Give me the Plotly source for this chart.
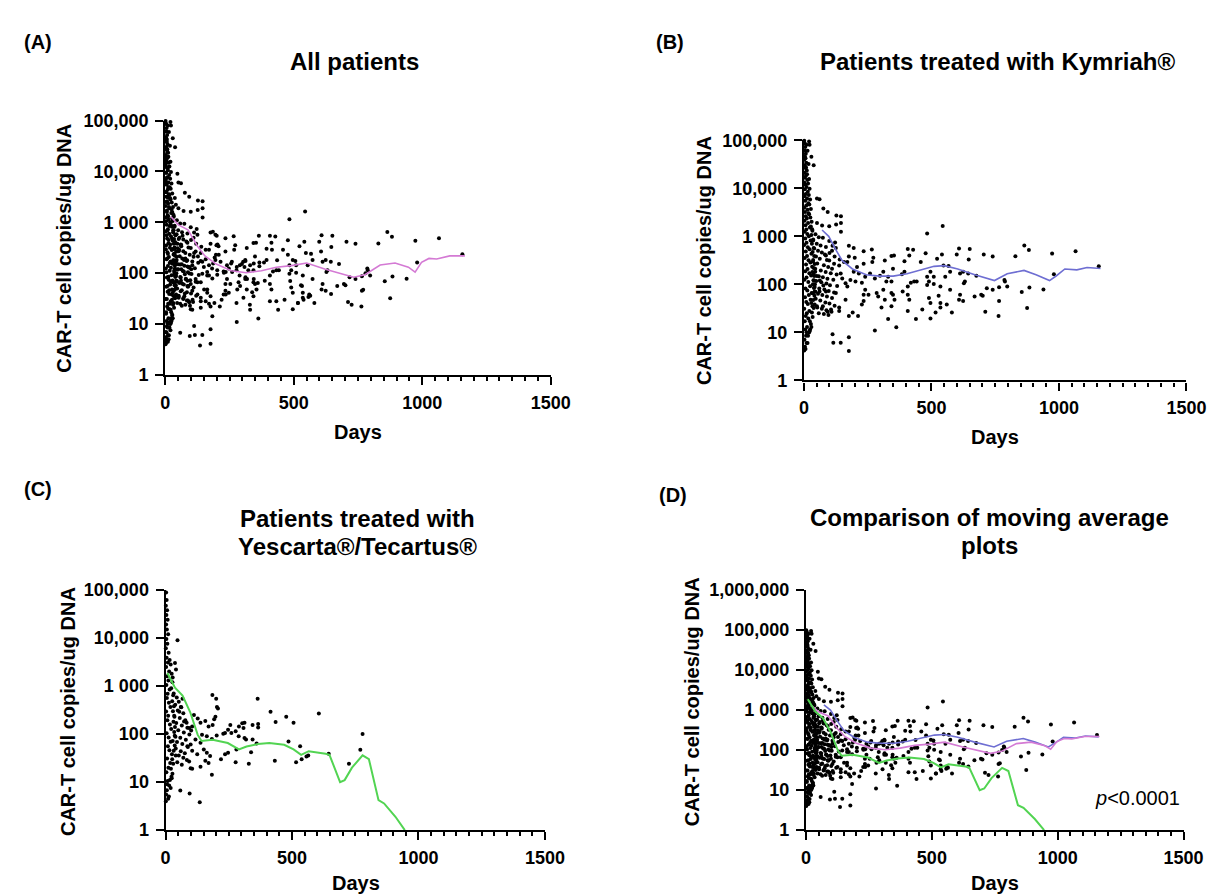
import plotly.graph_objects as go

W, H = 1222, 896

# ---------------- DATA ----------------
# Kymriah patients: (day, CAR-T copies/ug DNA)
kym_points = [
    # dense early band
    (1,98000),(3,86000),(5,72000),(2,61000),(7,52000),(4,45000),(1,39000),(9,34000),(3,30000),(6,26500),
    (11,23500),(2,21000),(8,18500),(4,16500),(13,14800),(1,13200),(6,11800),(10,10600),(3,9500),(15,8500),
    (7,7600),(2,6800),(12,6100),(5,5500),(17,4900),(9,4400),(1,3950),(14,3550),(4,3200),(20,2880),
    (7,2600),(11,2340),(2,2100),(16,1890),(6,1700),(23,1530),(9,1380),(3,1240),(13,1120),(19,1000),
    (5,900),(26,815),(10,735),(1,660),(15,595),(22,535),(7,480),(29,435),(12,390),(3,352),
    (18,318),(25,286),(8,258),(32,232),(14,209),(5,188),(21,170),(28,153),(10,138),(2,124),
    (17,112),(35,101),(24,91),(6,82),(13,74),(30,66),(19,60),(4,54),(26,48),(9,43),
    (15,39),(33,35),(1,31),(21,28),(11,25),(7,22),(17,19.5),(3,17),(27,15),(12,13),
    (5,11.5),(20,10),(8,8.5),(2,7),(14,6),(4,5),(1,4.2),
    (10,80000),(14,60000),(6,42000),(18,32000),(8,27000),(12,19500),(20,15500),(16,12500),(22,9800),(19,7200),
    (24,5800),(21,4600),(27,3700),(18,3000),(25,2450),(30,2000),(27,1600),(33,1300),(29,1060),(36,860),
    (31,700),(38,570),(34,470),(40,390),(36,320),(42,265),(38,220),(44,182),(40,150),(37,122),
    (43,100),(39,84),(45,70),(41,58),(36,47),(42,38),(38,32),(31,26),(34,21),(23,17),
    (29,13),(24,11.5),(16,8.5),(10,6),(6,4.5),
    # early cloud
    (32,1400),(45,1100),(58,950),(36,820),(50,700),(65,640),(40,560),(55,500),(70,460),(82,420),
    (47,380),(62,340),(90,320),(35,300),(52,270),(78,250),(95,230),(44,210),(66,195),(85,180),
    (105,170),(38,160),(58,148),(74,140),(92,130),(115,125),(48,118),(68,110),(88,104),(102,96),
    (130,92),(42,88),(60,82),(80,78),(97,73),(118,68),(55,64),(72,60),(90,56),(110,52),
    (46,50),(64,46),(84,42),(100,40),(120,36),(52,33),(70,31),(88,29),(108,27),(58,25),
    (78,24),(96,23),(40,120),(35,65),(33,180),(50,150),(62,120),(76,95),(110,210),(128,160),
    (100,450),(120,380),(140,330),(86,600),(110,500),
    # sparse points
    (38,30000),(29,45000),(22,80000),(20,94000),
    (51,6100),(61,5900),(76,3800),(93,3200),(127,2700),(145,2600),(126,1750),(145,1900),(145,1240),(99,1620),
    (71,1670),(51,1900),(483,1150),(544,1640),
    (122,740),(99,800),(74,935),(112,634),(125,568),(176,634),(195,568),(234,486),(266,534),(176,379),
    (170,290),(199,356),(157,290),(138,248),(118,268),(99,314),(86,397),
    (317,314),(343,391),(353,397),(407,542),(428,526),(413,397),(394,304),(458,290),(477,443),(522,339),
    (541,416),(547,248),(567,240),(599,416),(608,560),(650,542),(646,329),(705,416),(740,379),
    (272,356),(268,290),(234,268),(208,230),(195,182),(215,168),(240,144),(259,168),(278,133),(298,151),
    (311,182),(330,144),(323,114),(343,114),(349,212),(384,163),(394,182),(419,108),(432,114),(442,114),
    (407,90),(483,144),(496,182),(509,144),(490,114),(483,97),(509,102),(535,90),(554,144),(573,182),
    (612,168),(624,182),(631,114),(627,105),(644,168),(676,151),(740,77),(717,83),
    (144,168),(150,133),(163,105),(170,90),(182,123),(202,114),(227,108),(240,77),(234,61),(253,61),
    (285,66),(291,56),(311,77),(343,66),(349,61),(355,48),(317,48),(407,61),(413,48),(387,71),
    (490,52),(496,41),(528,58),(535,41),(560,38),(573,77),(612,61),(608,48),(624,45),(669,56),
    (695,61),(711,27),
    (29,41),(51,35),(74,35),(93,27),(106,30),(138,28),(176,22),(191,26),(212,22),(227,38),
    (234,45),(138,33),(163,48),(125,66),(86,71),(61,71),(42,71),
    (304,33),(330,19),(362,12.8),(278,10.9),(343,35),(407,28),(439,19),(464,30),(496,19.5),(516,26),
    (535,33),(580,26),
    (10,10.1),(22,10.6),
    (112,9.1),(115,6.1),(144,6.1),(176,7.9),(176,4.1),
    (829,385),(864,644),(882,518),(973,436),(1065,486),(1156,237),(980,163),(786,123),(788,114),(765,87),
    (797,90),(884,86),(854,69),(939,78),(701,58),(765,45),(763,22),(875,32),
]

# Yescarta/Tecartus patients: (day, CAR-T copies/ug DNA)
yes_points = [
    # dense early band
    (2,88000),(4,62000),(1,47000),(6,38000),(3,30000),(8,24000),(2,19000),(5,15000),(10,12000),(3,9500),
    (7,7600),(1,6100),(12,4900),(4,3900),(9,3100),(2,2500),(14,2000),(6,1600),(11,1300),(3,1050),
    (16,850),(8,690),(5,560),(13,450),(19,365),(2,295),(10,240),(7,195),(17,158),(22,128),
    (4,104),(12,85),(20,69),(9,56),(15,46),(25,38),(6,31),(18,25),(11,20),(3,16),
    (23,13),(8,10.5),(14,8.5),(5,6.8),(2,5.5),(10,4.5),(1,4),
    (16,3500),(20,2800),(24,1800),(27,1200),(22,900),(30,640),(26,480),(33,380),(29,300),(35,230),
    (31,180),(37,140),(34,110),(39,88),(28,72),(36,58),(32,45),(40,36),(26,30),(30,24),
    (21,19),(27,15),(24,12),(17,11),(20,7.5),(13,5),(6,9),
    # early cloud
    (32,700),(44,580),(52,470),(38,410),(62,360),(48,310),(70,270),(34,240),(56,215),(78,195),
    (42,170),(64,150),(86,135),(50,120),(72,108),(94,98),(36,92),(58,84),(80,76),(45,68),
    (66,62),(88,54),(40,50),(60,44),(76,40),(52,36),(70,32),(84,29),(46,26),(64,23),
    # sparse points
    (47,9000),(37,3000),(41,2210),(28,1500),
    (185,653),(200,542),(203,366),(207,339),(197,230),(192,203),(186,155),(170,144),(157,187),(138,173),
    (127,212),(112,248),(105,144),(101,119),(93,133),(83,173),(73,182),(67,542),(60,366),(54,290),
    (364,542),(415,290),(477,230),(435,179),(506,173),(606,268),(779,100),
    (256,155),(247,123),(235,105),(228,102),(260,105),(277,114),(290,144),(303,168),(312,173),(308,133),
    (289,90),(312,83),(318,77),(344,155),(366,163),(366,137),(344,77),(360,64),
    (202,93),(183,79),(163,90),(144,97),(138,66),(118,77),(99,61),(86,56),(105,45),(125,38),
    (151,48),(163,41),(176,35),(157,28),(170,25),(183,14.2),(138,21),(99,19.5),(93,27),(105,19),
    (219,30),(235,38),(247,41),(277,26),(280,48),(338,42),(329,24),(432,28),(486,70),(532,56),
    (516,26),(538,30),(557,34),(564,36),(645,39),(725,24),(770,47),
    (58,6.7),(95,5.8),(135,3.8),
]

kym_days = [p[0] for p in kym_points]
kym_vals = [p[1] for p in kym_points]
yes_days = [p[0] for p in yes_points]
yes_vals = [p[1] for p in yes_points]
all_days = kym_days + yes_days
all_vals = kym_vals + yes_vals

# Moving averages
ma_all_days = [22, 51, 88, 125, 154, 198, 257, 315, 374, 432, 491, 550, 623, 682, 733, 777, 836, 894, 946, 972, 997, 1026, 1056, 1107, 1166]
ma_all_vals = [1290, 890, 710, 340, 219, 151, 112, 102, 112, 131, 141, 158, 120, 98, 83, 93, 145, 158, 131, 105, 163, 195, 190, 219, 219]

ma_kym_days = [71, 97, 124, 150, 190, 244, 297, 350, 404, 457, 510, 550, 603, 670, 710, 747, 797, 863, 910, 963, 990, 1023, 1070, 1110, 1163]
ma_kym_vals = [1350, 1000, 535, 310, 209, 158, 148, 148, 166, 195, 237, 245, 209, 158, 135, 120, 166, 195, 158, 120, 151, 209, 200, 224, 214]

ma_yes_days = [7, 37, 67, 97, 127, 142, 186, 246, 290, 320, 365, 410, 469, 506, 536, 566, 633, 648, 690, 708, 737, 779, 804, 842, 864, 909, 946]
ma_yes_vals = [1860, 920, 630, 288, 96, 72, 76, 65, 48, 55, 62, 65, 60, 48, 37, 44, 39, 37, 10, 11, 20, 36, 30, 4.2, 3.6, 1.9, 1.0]

x_ticks = [0, 500, 1000, 1500]
y_ticks5 = [1, 10, 100, 1000, 10000, 100000]
y_text5 = ["1", "10", "100", "1 000", "10,000", "100,000"]
y_ticks6 = y_ticks5 + [1000000]
y_text6 = y_text5 + ["1,000,000"]

PINK = "#d47ad4"
BLUE = "#6e6ed2"
GREEN = "#52d452"
FONT = "Liberation Sans, Arial, Helvetica, sans-serif"

# ---------------- helpers ----------------
def px_x(x):
    return x / W

def px_y(y):
    return 1 - y / H

panels = {
    1: dict(x0=155.5, x1=549, y0=105, y1=365, ymax=5),
    2: dict(x0=807.5, x1=1198, y0=125, y1=370.7, ymax=5),
    3: dict(x0=155.8, x1=543, y0=585, y1=830.7, ymax=5),
    4: dict(x0=809.6, x1=1195, y0=585, y1=830.7, ymax=6),
}

fig = go.Figure()

def add_scatter(i, xs, ys):
    fig.add_trace(go.Scatter(
        x=xs, y=ys, mode="markers",
        marker=dict(color="black", size=4, line=dict(width=0)),
        cliponaxis=False, showlegend=False,
        xaxis="x" if i == 1 else f"x{i}", yaxis="y" if i == 1 else f"y{i}",
    ))

def add_line(i, xs, ys, color, width=1.6):
    fig.add_trace(go.Scatter(
        x=xs, y=ys, mode="lines",
        line=dict(color=color, width=width),
        showlegend=False,
        xaxis="x" if i == 1 else f"x{i}", yaxis="y" if i == 1 else f"y{i}",
    ))

add_scatter(1, all_days, all_vals)
add_line(1, ma_all_days, ma_all_vals, PINK)

add_scatter(2, kym_days, kym_vals)
add_line(2, ma_kym_days, ma_kym_vals, BLUE)

add_scatter(3, yes_days, yes_vals)
add_line(3, ma_yes_days, ma_yes_vals, GREEN, 2)

add_scatter(4, all_days, all_vals)
add_line(4, ma_kym_days, ma_kym_vals, BLUE)
add_line(4, ma_all_days, ma_all_vals, PINK)
add_line(4, ma_yes_days, ma_yes_vals, GREEN, 2)

tickfont = dict(family=FONT, size=18, color="black", weight="bold")

layout = dict(
    width=W, height=H,
    margin=dict(l=0, r=0, t=0, b=0),
    paper_bgcolor="white", plot_bgcolor="white",
    showlegend=False,
)

for i, p in panels.items():
    xk = "xaxis" if i == 1 else f"xaxis{i}"
    yk = "yaxis" if i == 1 else f"yaxis{i}"
    xa = "x" if i == 1 else f"x{i}"
    ya = "y" if i == 1 else f"y{i}"
    layout[xk] = dict(
        domain=[px_x(p["x0"]), px_x(p["x1"])],
        anchor=ya, range=[0, 1500],
        tickvals=x_ticks, ticktext=[str(v) for v in x_ticks],
        ticks="outside", ticklen=8, tickwidth=2, tickcolor="black",
        showline=True, linewidth=2.2, linecolor="black",
        showgrid=False, zeroline=False,
        tickfont=tickfont, ticklabelstandoff=2,
        minor=dict(dtick=50, tick0=0, ticks="outside", ticklen=4, tickwidth=1.5,
                   tickcolor="black", showgrid=False),
    )
    yt = y_ticks6 if p["ymax"] == 6 else y_ticks5
    ytt = y_text6 if p["ymax"] == 6 else y_text5
    layout[yk] = dict(
        domain=[px_y(p["y1"]), px_y(p["y0"])],
        anchor=xa, type="log", range=[0, p["ymax"]],
        tickvals=yt, ticktext=ytt,
        ticks="outside", ticklen=8, tickwidth=2, tickcolor="black",
        showline=True, linewidth=2.2, linecolor="black",
        showgrid=False, zeroline=False,
        tickfont=tickfont, ticklabelstandoff=3,
    )

fig.update_layout(**layout)

def ann(text, x, y, size, bold=True, xanchor="center", angle=0):
    fig.add_annotation(
        text=text, x=px_x(x), y=px_y(y), xref="paper", yref="paper",
        xanchor=xanchor, yanchor="middle", showarrow=False, textangle=angle,
        font=dict(family=FONT, size=size, color="black",
                  weight="bold" if bold else "normal"),
    )

# panel letters
ann("(A)", 26, 25, 20)
ann("(B)", 671, 25, 20)
ann("(C)", 26, 482, 20)
ann("(D)", 674, 488, 20)

# titles
ann("All patients", 349, 45, 24)
ann("Patients treated with Kymriah®", 1005, 45, 24)
ann("Patients treated with", 352, 512, 24)
ann("Yescarta®/Tecartus®", 352, 541, 24)
ann("Comparison of moving average", 997, 511, 24)
ann("plots", 997, 540, 24)

# axis titles
ann("Days", 352, 423, 20)
ann("Days", 1003, 429, 20)
ann("Days", 350, 885, 20)
ann("Days", 1002, 885, 20)
ann("CAR-T cell copies/ug DNA", 52, 235, 20, angle=-90)
ann("CAR-T cell copies/ug DNA", 706, 248, 20, angle=-90)
ann("CAR-T cell copies/ug DNA", 56, 709, 20, angle=-90)
ann("CAR-T cell copies/ug DNA", 694, 699, 20, angle=-90)

# p-value
fig.add_annotation(
    text="<i>p</i>&lt;0.0001", x=px_x(1193), y=px_y(798), xref="paper", yref="paper",
    xanchor="right", yanchor="middle", showarrow=False,
    font=dict(family=FONT, size=20, color="black"),
)

fig.write_html("out.html")
